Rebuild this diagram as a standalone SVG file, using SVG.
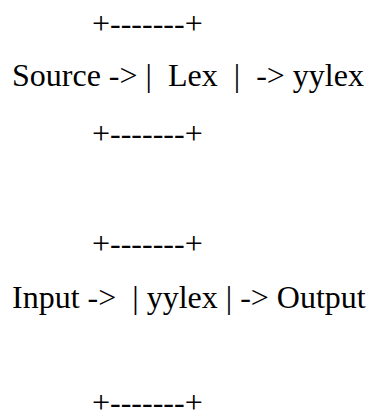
<svg xmlns="http://www.w3.org/2000/svg" width="370" height="417" viewBox="0 0 370 417">
  <style>
    .t { font-family: "Liberation Serif", "Times New Roman", serif; font-size: 32px; fill: #000; white-space: pre; }
  </style>
  <rect width="370" height="417" fill="#fff"/>
  <g id="lex-box">
    <text class="t" x="92" y="34">+-------+</text>
    <text class="t" x="12" y="86" xml:space="preserve">Source -&gt; |  Lex  |  -&gt; yylex</text>
    <text class="t" x="92" y="144">+-------+</text>
  </g>
  <g id="yylex-box">
    <text class="t" x="92" y="254">+-------+</text>
    <text class="t" x="12" y="308" xml:space="preserve">Input -&gt;  | yylex | -&gt; Output</text>
    <text class="t" x="92" y="413">+-------+</text>
  </g>
  <g id="connectors"></g>
</svg>
